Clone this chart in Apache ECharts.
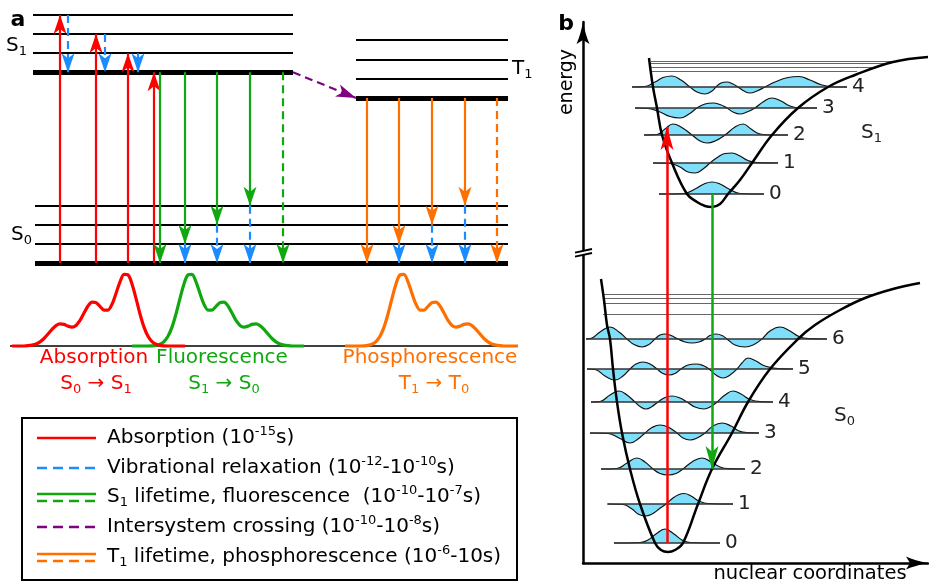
<!DOCTYPE html>
<html>
<head>
<meta charset="utf-8">
<title>Jablonski diagram and Franck-Condon principle</title>
<script src="https://cdn.jsdelivr.net/npm/echarts@6.0.0/dist/echarts.min.js"></script>
<style>
html,body{margin:0;padding:0;background:#ffffff;}
#chart{width:929px;height:583px;}
</style>
</head>
<body>
<div id="chart"></div>
<script>
// ================= Panel a : Jablonski diagram =================
// x: horizontal layout position (diagram units), y: energy in vibrational quanta above S0 v=0
const s0Levels = [0, 1, 2, 3];
const s1Levels = [10, 11, 12, 13];
const t1Levels = [8.65, 9.66, 10.67, 11.68];
const s0Span = [35, 508];
const s1Span = [33, 293];
const t1Span = [356, 508];

// transitions: [x, from energy, to energy]
const absorption = [[60, 0, 13], [96, 0, 12], [128, 0, 11], [154, 0, 10]];
const vibRelaxS1 = [[68, 13, 10], [105, 12, 10], [138, 11, 10]];
const fluorescence = [[160, 10, 0], [185, 10, 1], [217, 10, 2], [250, 10, 3]];
const s1NonRadiative = [[283, 10, 0]];
const vibRelaxS0 = [[185, 1, 0], [217, 2, 0], [250, 3, 0], [399, 1, 0], [432, 2, 0], [465, 3, 0]];
const intersystemCrossing = [[293, 10], [356, 8.65]];
const phosphorescence = [[367, 8.65, 0], [399, 8.65, 1], [432, 8.65, 2], [465, 8.65, 3]];
const t1NonRadiative = [[497, 8.65, 0]];

// spectra: [position, relative intensity]
const absorptionSpectrum = [[12,0],[24,0],[28,0.004],[32,0.012],[36,0.028],[40,0.057],[44,0.104],[48,0.166],[52,0.231],[56,0.283],[60,0.307],[64,0.300],[68,0.276],[72,0.263],[76,0.286],[80,0.355],[84,0.459],[88,0.556],[92,0.610],[96,0.602],[100,0.551],[104,0.499],[108,0.499],[112,0.580],[116,0.729],[120,0.891],[124,0.995],[128,0.988],[132,0.862],[136,0.662],[140,0.445],[144,0.262],[148,0.135],[152,0.061],[156,0.024],[160,0.008],[164,0.002],[168,0],[185,0]];
const fluorescenceSpectrum = [[132,0],[148,0],[152,0.002],[156,0.008],[160,0.024],[164,0.061],[168,0.135],[172,0.262],[176,0.445],[180,0.662],[184,0.862],[188,0.988],[192,0.995],[196,0.891],[200,0.729],[204,0.580],[208,0.499],[212,0.499],[216,0.551],[220,0.602],[224,0.610],[228,0.556],[232,0.459],[236,0.355],[240,0.286],[244,0.263],[248,0.276],[252,0.300],[256,0.307],[260,0.283],[264,0.231],[268,0.166],[272,0.104],[276,0.057],[280,0.028],[284,0.012],[288,0.004],[292,0],[304,0]];
const phosphorescenceSpectrum = [[345,0],[360,0],[364,0.002],[368,0.008],[372,0.024],[376,0.061],[380,0.135],[384,0.262],[388,0.445],[392,0.662],[396,0.862],[400,0.988],[404,0.995],[408,0.891],[412,0.729],[416,0.580],[420,0.499],[424,0.499],[428,0.551],[432,0.602],[436,0.610],[440,0.556],[444,0.459],[448,0.355],[452,0.286],[456,0.263],[460,0.276],[464,0.300],[468,0.307],[472,0.283],[476,0.231],[480,0.166],[484,0.104],[488,0.057],[492,0.028],[496,0.012],[500,0.004],[504,0],[518,0]];
const spectrumBaseline = [10, 518];

// ================= Panel b : Franck-Condon =================
// x: nuclear coordinate (arb. units), y: energy (arb. units)
const s0VibEnergy = [20, 59, 94, 130, 161, 194, 224];
const s0VibSpan = [[31,137],[25,150],[18,162],[7,176],[8,190],[4,210],[3,244]];
const s1VibEnergy = [369, 400, 428, 455, 476];
const s1VibSpan = [[76,181],[70,195],[61,205],[52,234],[49,264]];
const s0ContinuumEnergy = [269, 265, 260, 249];
const s0ContinuumSpan = [[20,294],[20,282],[20,270],[20,250]];
const s1ContinuumEnergy = [502, 500, 496, 492];
const s1ContinuumSpan = [[68,314],[68,304],[68,289],[68,274]];

const s0Potential = [[18,284],[21,263],[24,238],[27,224],[30,194],[34,161],[39,130],[47,94],[57,59],[72,20],[78,13],[85,11],[92,13],[100,20],[115,59],[129,94],[149,130],[165,161],[187,194],[215,224],[232,238],[257,253],[282,265],[310,274],[337,280]];
const s1Potential = [[66,505],[70,476],[74,455],[79,428],[89,400],[104,369],[114,361],[122,357],[129,356],[137,359],[145,369],[157,383],[169,400],[189,428],[215,455],[245,476],[272,488],[310,501],[345,506]];

// vibrational wavefunctions: [nuclear coordinate, amplitude above its level]
const s0Wave = [
  [[31,0],[57,0.5],[65,3],[73,9],[82,14],[91,9],[99,3],[107,0.5],[137,0]],
  [[24,0],[40,-0.5],[49,-5],[55,-10],[62,-12],[69,-10],[76,-5],[83,0],[90,6],[96,9.5],[101,10.5],[108,8],[116,3],[125,0.5],[150,0]],
  [[18,0],[34,0.5],[44,6],[54,11],[62,7],[70,0],[77,-4.5],[85,-6],[93,-4.5],[100,0],[109,7],[119,11],[128,7],[137,2],[145,0.3],[162,0]],
  [[7,0],[25,-0.5],[36,-5],[47,-10],[55,-6],[62,0],[69,5.5],[77,8],[85,6],[94,0],[100,-5],[107,-7],[114,-5],[122,0],[130,7],[139,10],[148,7],[156,2],[164,0.3],[176,0]],
  [[8,0],[17,0.5],[27,7],[36,11],[44,7],[52,0],[57,-4.5],[63,-7],[69,-4.5],[75,0],[82,4.5],[89,6],[97,4],[104,0],[112,-5],[121,-7],[128,-4.5],[134,0],[142,7],[150,11],[158,8],[167,2.5],[177,0.3],[190,0]],
  [[4,0],[12,-0.5],[22,-7],[32,-11],[40,-7],[47,0],[53,5],[60,7],[67,5],[74,0],[80,-4.5],[86,-6],[92,-4.5],[98,0],[105,4],[113,5],[120,3.5],[126,0],[133,-6],[140,-9],[147,-6],[154,0],[159,6],[165,11],[173,8],[182,3],[195,0.3],[210,0]],
  [[3,0],[9,1],[17,7],[27,12],[36,7],[44,0],[51,-5.5],[59,-8],[66,-5.5],[72,0],[77,4],[82,5],[88,3.5],[95,0],[102,-3],[109,-4],[116,-3],[122,0],[127,3.5],[133,5],[139,3.5],[144,0],[152,-6],[162,-8],[171,-5.5],[179,0],[187,8],[197,12],[207,8],[216,2.5],[225,0.3],[244,0]]
];
const s1Wave = [
  [[76,0],[101,0.5],[113,5.5],[121,10],[129,12],[137,10],[145,5.5],[157,0.5],[181,0]],
  [[70,0],[87,-0.5],[97,-4],[105,-9],[112,-10],[120,-6],[127,0],[135,6],[142,9.5],[149,10],[157,7],[165,2.5],[174,0.3],[195,0]],
  [[61,0],[74,0.5],[82,6],[90,11],[98,8],[109,0],[117,-6],[124,-8],[132,-6],[142,0],[152,8],[160,11],[168,6],[177,1],[187,0],[205,0]],
  [[52,0],[65,-0.5],[77,-4],[87,-8.5],[97,-10],[106,-6],[114,0],[122,4],[130,5],[137,3.5],[144,0],[150,-4],[157,-6],[164,-4],[172,0],[180,6],[189,10],[198,7],[207,2],[217,0],[234,0]],
  [[49,0],[62,0.5],[72,5],[80,9.5],[89,11],[98,7],[107,0],[114,-5],[122,-7],[129,-4],[133,0],[138,4],[144,5],[150,3],[155,0],[161,-4],[167,-6],[174,-4],[182,0],[192,5],[205,9.5],[216,10.5],[227,7],[239,2],[252,0],[264,0]]
];
// vertical transitions in panel b: [x, from energy, to energy]
const fcAbsorption = [[84, 20, 436]];
const fcEmission = [[129, 369, 94]];

// legend texts
const legendTexts = [
  '{n|Absorption (10}{sup|-15}{n|s)}',
  '{n|Vibrational relaxation (10}{sup|-12}{n|-10}{sup|-10}{n|s)}',
  '{n|S}{sub|1}{n| lifetime, fluorescence  (10}{sup|-10}{n|-10}{sup|-7}{n|s)}',
  '{n|Intersystem crossing (10}{sup|-10}{n|-10}{sup|-8}{n|s)}',
  '{n|T}{sub|1}{n| lifetime, phosphorescence (10}{sup|-6}{n|-10s)}'
];

// ================= styling =================
const FONT = 'DejaVu Sans';
const RED = '#ff0000', BLUE = '#1a8cff', GREEN = '#0fa80f', PURPLE = '#800080', ORANGE = '#ff6f00', CYAN = '#7fdffa';
const HEAD_A = 'path://M0,0M0,19L6.5,38L0,33L-6.5,38Z';
const HEAD_B = 'path://M0,0M0,22L6.5,44L0,38.5L-6.5,44Z';
const AXIS_HEAD = 'path://M0,0M0,22Q2.5,35 6.5,44L0,40L-6.5,44Q-2.5,35 0,22Z';
const DASH = [8, 5];

const legendStyles = [
  {color: RED, lines: ['solid']},
  {color: BLUE, lines: ['dashed']},
  {color: GREEN, lines: ['solid', 'dashed']},
  {color: PURPLE, lines: ['dashed']},
  {color: ORANGE, lines: ['solid', 'dashed']}
];
const legendRowY = [438, 468, 497, 527, 557];

function verticals(items) {
  return items.map(t => ({coords: [[t[0], t[1]], [t[0], t[2]]]}));
}
function arrows(grid, data, color, dashed, head, headSize, width, z) {
  return {
    type: 'lines', coordinateSystem: 'cartesian2d', xAxisIndex: grid, yAxisIndex: grid,
    data: data, symbol: ['none', head], symbolSize: [0, headSize], clip: false, silent: true, z: z || 5,
    lineStyle: {color: color, width: width, type: dashed ? DASH : 'solid', opacity: 1, curveness: 0}
  };
}
function levels(grid, energies, span, width, color, z) {
  return {
    type: 'lines', coordinateSystem: 'cartesian2d', xAxisIndex: grid, yAxisIndex: grid, clip: false, silent: true, z: z || 3,
    data: energies.map((e, i) => ({coords: [[span[0], e], [span[1], e]], lineStyle: {width: typeof width === 'function' ? width(i) : width}})),
    lineStyle: {color: color, opacity: 1}
  };
}
function richStyles(color, size) {
  return {
    n: {fontSize: size, fontFamily: FONT, fill: color, color: color, lineHeight: size + 5},
    sub: {fontSize: Math.round(size * 0.66), fontFamily: FONT, fill: color, color: color, lineHeight: Math.round(size * 0.62), verticalAlign: 'bottom'},
    sup: {fontSize: Math.round(size * 0.66), fontFamily: FONT, fill: color, color: color, lineHeight: Math.round(size * 0.62), verticalAlign: 'top'}
  };
}
function label(x, y, text, color, size, align, extra) {
  return Object.assign({
    type: 'text', x: x, y: y, z: 50, silent: true,
    style: {text: text, rich: richStyles(color, size), align: align || 'center', verticalAlign: 'middle',
      textAlign: align || 'center', textVerticalAlign: 'middle', fill: color, fontSize: size, fontFamily: FONT}
  }, extra || {});
}

const series = [];

// ---- panel a: levels
series.push(levels(0, s0Levels, s0Span, i => (i === 0 ? 5 : 2), '#000'));
series.push(levels(0, s1Levels, s1Span, i => (i === 0 ? 5 : 2), '#000'));
series.push(levels(0, t1Levels, t1Span, i => (i === 0 ? 5 : 2), '#000'));
// ---- panel a: transitions
series.push(arrows(0, verticals(absorption), RED, false, HEAD_A, [13, 38], 2.2));
series.push(arrows(0, verticals(vibRelaxS1), BLUE, true, HEAD_A, [13, 38], 2.2));
series.push(arrows(0, verticals(vibRelaxS0), BLUE, true, HEAD_A, [13, 38], 2.2));
series.push(arrows(0, verticals(fluorescence), GREEN, false, HEAD_A, [13, 38], 2.2, 6));
series.push(arrows(0, verticals(s1NonRadiative), GREEN, true, HEAD_A, [13, 38], 2.2, 6));
series.push(arrows(0, [{coords: intersystemCrossing}], PURPLE, true, HEAD_A, [13, 40], 2.2));
series.push(arrows(0, verticals(phosphorescence), ORANGE, false, HEAD_A, [13, 38], 2.2, 6));
series.push(arrows(0, verticals(t1NonRadiative), ORANGE, true, HEAD_A, [13, 38], 2.2, 6));

// ---- spectra
series.push({type: 'lines', coordinateSystem: 'cartesian2d', xAxisIndex: 1, yAxisIndex: 1, clip: false, silent: true, z: 2,
  data: [{coords: [[spectrumBaseline[0], 0], [spectrumBaseline[1], 0]]}], lineStyle: {color: '#000', width: 1.5, opacity: 1}});
[[fluorescenceSpectrum, GREEN], [absorptionSpectrum, RED], [phosphorescenceSpectrum, ORANGE]].forEach(s => {
  series.push({type: 'line', xAxisIndex: 1, yAxisIndex: 1, data: s[0], smooth: 0.3, symbol: 'none', clip: false, silent: true, z: 3,
    lineStyle: {color: s[1], width: 3.2}});
});

// ---- panel b: wavefunctions
[[s0Wave, s0VibEnergy], [s1Wave, s1VibEnergy]].forEach(pair => {
  pair[0].forEach((pts, i) => {
    const e = pair[1][i];
    series.push({type: 'line', xAxisIndex: 2, yAxisIndex: 2, smooth: 0.45, symbol: 'none', clip: false, silent: true, z: 2,
      data: pts.map(p => [p[0], e + p[1]]),
      lineStyle: {color: '#111', width: 1.2},
      areaStyle: {color: CYAN, opacity: 1, origin: e}});
  });
});
// ---- panel b: continuum lines
[[s0ContinuumEnergy, s0ContinuumSpan], [s1ContinuumEnergy, s1ContinuumSpan]].forEach(pair => {
  series.push({type: 'lines', coordinateSystem: 'cartesian2d', xAxisIndex: 2, yAxisIndex: 2, clip: false, silent: true, z: 3,
    data: pair[0].map((e, i) => ({coords: [[pair[1][i][0], e], [pair[1][i][1], e]]})),
    lineStyle: {color: '#666', width: 1, opacity: 1}});
});
// ---- panel b: vibrational levels with quantum numbers
[[s0VibEnergy, s0VibSpan], [s1VibEnergy, s1VibSpan]].forEach(pair => {
  series.push({type: 'lines', coordinateSystem: 'cartesian2d', xAxisIndex: 2, yAxisIndex: 2, clip: false, silent: true, z: 3,
    data: pair[0].map((e, i) => ({name: String(i), coords: [[pair[1][i][0], e], [pair[1][i][1], e]]})),
    lineStyle: {color: '#333', width: 1.5, opacity: 1},
    label: {show: true, position: 'end', distance: 5, formatter: p => p.name, fontSize: 20, fontFamily: FONT, color: '#222'}});
});
// ---- panel b: potential curves
[s0Potential, s1Potential].forEach(c => {
  series.push({type: 'line', xAxisIndex: 2, yAxisIndex: 2, data: c, smooth: 0.4, symbol: 'none', clip: false, silent: true, z: 4,
    lineStyle: {color: '#000', width: 2.5}});
});
// ---- panel b: vertical transitions
series.push(arrows(2, verticals(fcAbsorption), RED, false, HEAD_B, [13, 46], 2.5, 6));
series.push(arrows(2, verticals(fcEmission), GREEN, false, HEAD_B, [13, 46], 2.5, 6));

// ---- graphic: labels, legend, axis break
const graphic = [];
graphic.push({type: 'text', x: 18, y: 20, z: 50, style: {text: 'a', fontSize: 22, fontWeight: 'bold', fontFamily: FONT, fill: '#000', align: 'center', verticalAlign: 'middle'}});
graphic.push({type: 'text', x: 566, y: 24, z: 50, style: {text: 'b', fontSize: 22, fontWeight: 'bold', fontFamily: FONT, fill: '#000', align: 'center', verticalAlign: 'middle'}});
graphic.push(label(6, 46, '{n|S}{sub|1}', '#000', 20, 'left'));
graphic.push(label(11, 235, '{n|S}{sub|0}', '#000', 20, 'left'));
graphic.push(label(512, 69, '{n|T}{sub|1}', '#000', 20, 'left'));
graphic.push(label(94, 358, '{n|Absorption}', RED, 20));
graphic.push(label(96, 384, '{n|S}{sub|0}{n| → S}{sub|1}', RED, 20));
graphic.push(label(222, 358, '{n|Fluorescence}', GREEN, 20));
graphic.push(label(224, 384, '{n|S}{sub|1}{n| → S}{sub|0}', GREEN, 20));
graphic.push(label(430, 358, '{n|Phosphorescence}', ORANGE, 20));
graphic.push(label(434, 384, '{n|T}{sub|1}{n| → T}{sub|0}', ORANGE, 20));
graphic.push(label(861, 133, '{n|S}{sub|1}', '#222', 20, 'left'));
graphic.push(label(834, 416, '{n|S}{sub|0}', '#222', 20, 'left'));
graphic.push(label(567, 82, '{n|energy}', '#000', 19, 'center', {rotation: Math.PI / 2}));
graphic.push(label(810, 574, '{n|nuclear coordinates}', '#000', 19.5, 'center'));
// legend
graphic.push({type: 'rect', z: 10, silent: true, shape: {x: 22, y: 418, width: 495, height: 162}, style: {fill: '#fff', stroke: '#000', lineWidth: 2}});
legendStyles.forEach((row, i) => {
  const y = legendRowY[i];
  row.lines.forEach((kind, k) => {
    const yy = row.lines.length === 1 ? y : (k === 0 ? y - 3 : y + 4);
    graphic.push({type: 'line', z: 20, silent: true, shape: {x1: 37, y1: yy, x2: 96, y2: yy},
      style: {stroke: row.color, lineWidth: 2.5, lineDash: kind === 'dashed' ? [10, 6] : null}});
  });
  graphic.push(label(107, y, legendTexts[i], '#000', 20, 'left'));
});
// y-axis break
graphic.push({type: 'polygon', z: 100, silent: true, shape: {points: [[575, 252.7], [592, 249], [592, 253], [575, 256.7]]}, style: {fill: '#fff'}});
graphic.push({type: 'line', z: 101, silent: true, shape: {x1: 575, y1: 252.7, x2: 592, y2: 249}, style: {stroke: '#000', lineWidth: 1.8}});
graphic.push({type: 'line', z: 101, silent: true, shape: {x1: 575, y1: 256.7, x2: 592, y2: 253}, style: {stroke: '#000', lineWidth: 1.8}});

const hiddenAxis = (grid, min, max) => ({gridIndex: grid, type: 'value', min: min, max: max, show: false});
const drawnAxis = (grid, min, max) => ({
  gridIndex: grid, type: 'value', min: min, max: max,
  axisLine: {show: true, onZero: false, symbol: ['none', AXIS_HEAD], symbolSize: [13, 44], lineStyle: {color: '#000', width: 2.5}},
  axisTick: {show: false}, axisLabel: {show: false}, splitLine: {show: false}
});

const option = {
  animation: false,
  backgroundColor: '#fff',
  textStyle: {fontFamily: FONT},
  grid: [
    {left: 0, top: 15, width: 520, height: 248, outerBoundsMode: 'none', containLabel: false},
    {left: 0, top: 274, width: 520, height: 72, outerBoundsMode: 'none', containLabel: false},
    {left: 583, top: 22, width: 345, height: 541, outerBoundsMode: 'none', containLabel: false}
  ],
  xAxis: [hiddenAxis(0, 0, 520), hiddenAxis(1, 0, 520), drawnAxis(2, 0, 345)],
  yAxis: [hiddenAxis(0, 0, 13), hiddenAxis(1, 0, 1), drawnAxis(2, 0, 541)],
  series: series,
  graphic: graphic
};

const chart = echarts.init(document.getElementById('chart'), null, {renderer: 'canvas'});
chart.setOption(option);
</script>
</body>
</html>
